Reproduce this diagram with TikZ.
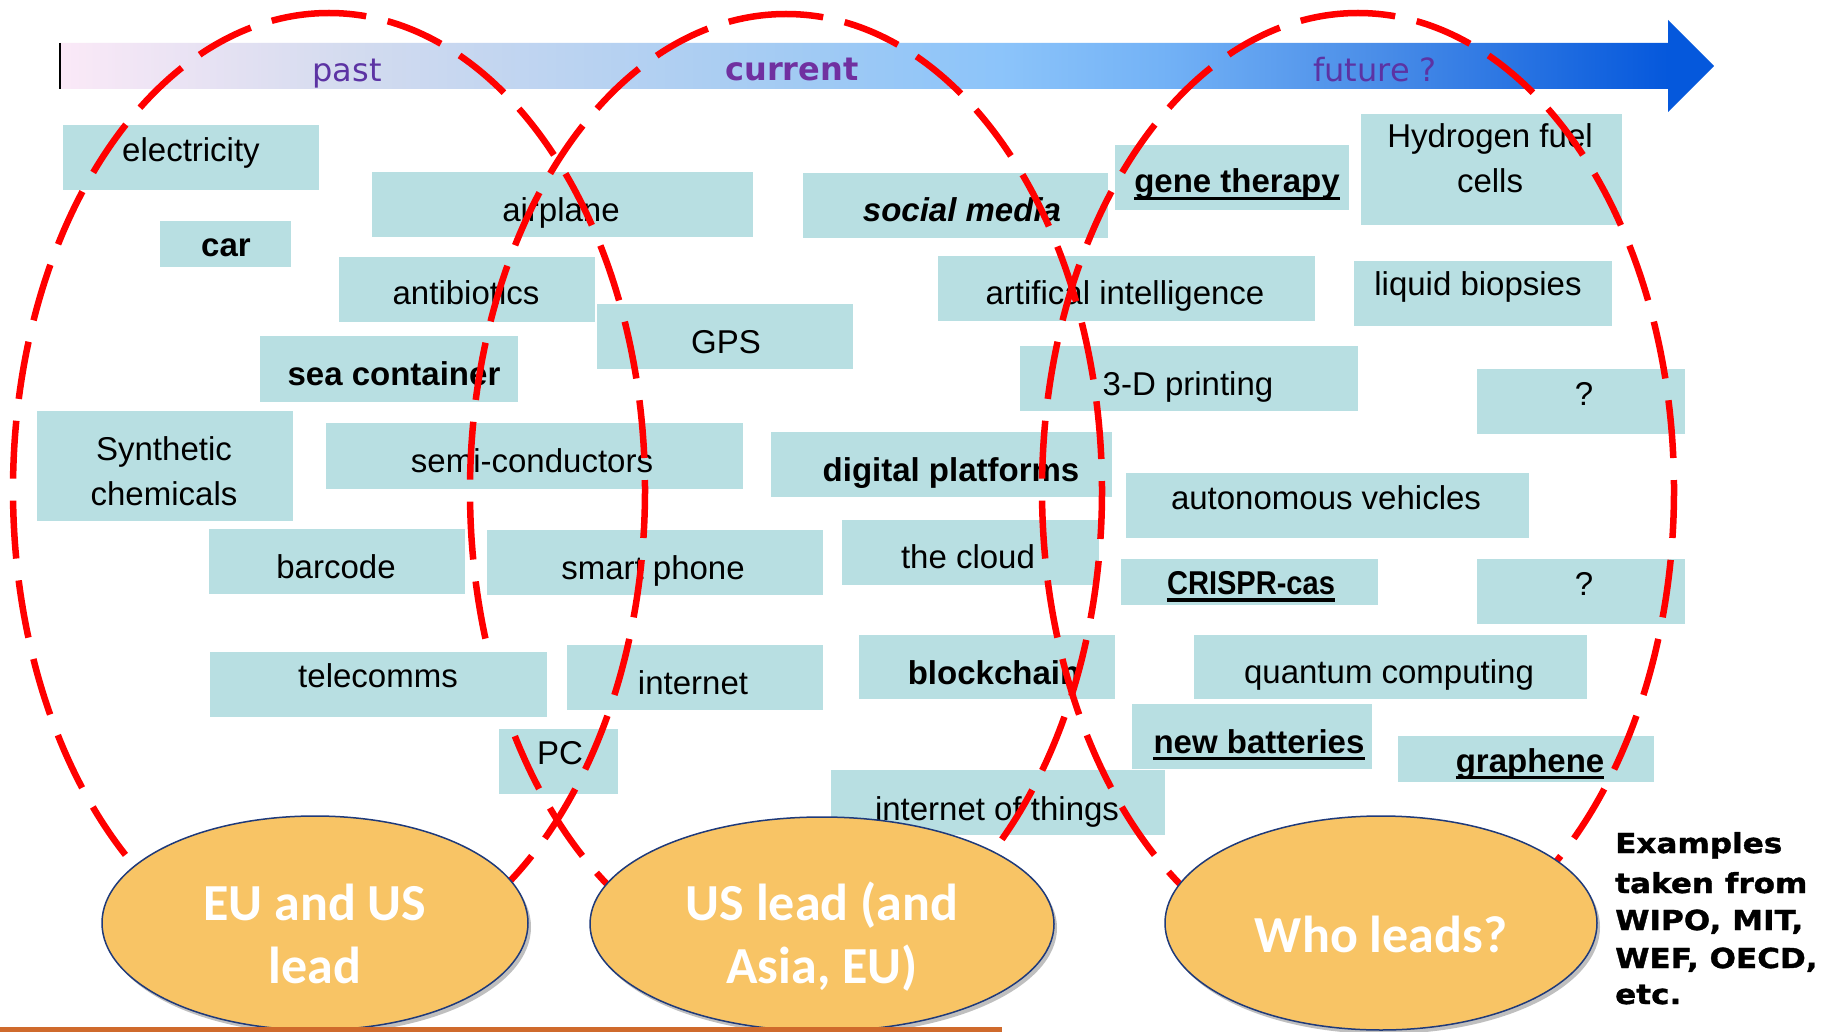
\documentclass[tikz,border=0pt]{standalone}
\usepackage{fontspec}
\usepackage{graphicx}
\setmainfont{Liberation Sans}
\newfontfamily\dvfont{DejaVu Sans}
\newfontfamily\exfont{DejaVu Sans}[FakeStretch=1.13, FakeBold=1.2]
\newfontfamily\calfont{Carlito}
\usetikzlibrary{fit,shadows,shapes.geometric}
\definecolor{boxc}{HTML}{B8DFE2}
\definecolor{leadfill}{HTML}{F8C465}
\definecolor{leadline}{HTML}{1F3A7A}
\definecolor{eracol}{HTML}{5C33A3}
\definecolor{curcol}{HTML}{7030A0}
\definecolor{orline}{HTML}{CF6A2C}
\definecolor{a0}{HTML}{FBE9F7}
\definecolor{a1}{HTML}{D3DBEF}
\definecolor{a2}{HTML}{A3CBF3}
\definecolor{a3}{HTML}{8CC4FA}
\definecolor{a4}{HTML}{73B2F6}
\definecolor{a5}{HTML}{4B8EE8}
\definecolor{a6}{HTML}{0558DC}
\pgfdeclarehorizontalshading{arrowsh}{100bp}{color(0bp)=(a0); color(25bp)=(a0); color(33.8bp)=(a1); color(47bp)=(a2); color(53.4bp)=(a3); color(58.3bp)=(a4); color(64.7bp)=(a5); color(73.6bp)=(a6); color(75bp)=(a6); color(100bp)=(a6)}
\tikzset{
  boxst/.style={fill=boxc, draw=none, inner sep=0pt, outer sep=0pt},
  txt/.style={inner sep=0pt, anchor=base, font=\fontsize{33}{40}\selectfont},
  btxt/.style={inner sep=0pt, anchor=base, font=\fontsize{33}{40}\selectfont\bfseries},
  ulst/.style={line width=3.5pt, black},
  reddash/.style={draw=red, line width=6.5pt, dash pattern=on 58pt off 22pt},
  lead/.style={ellipse, fill=leadfill, draw=leadline, line width=1.5pt, inner sep=0pt,
    drop shadow={shadow xshift=3pt, shadow yshift=-4pt, opacity=0.25, fill=black}},
  leadtxt/.style={inner sep=0pt, anchor=base, text=white, font=\calfont\bfseries\fontsize{52}{62}\selectfont},
  ex/.style={inner sep=0pt, anchor=base west, font=\exfont\bfseries\fontsize{27.5}{37}\selectfont},
  era/.style={inner sep=0pt, anchor=base, text=eracol, font=\dvfont\fontsize{32}{38}\selectfont},
}
\newcommand\tbox[5]{\node[boxst, fit={(#2,#3) (#4,#5)}] (#1) {};}
\begin{document}
\begin{tikzpicture}[x=1pt,y=-1pt]
\fill[white] (0,0) rectangle (1830,1032);
\useasboundingbox (0,0) rectangle (1830,1032);

% timeline arrow
\shade[shading=arrowsh] (60,43) -- (1668,43) -- (1668,20) -- (1714,66) -- (1668,112) -- (1668,89) -- (60,89) -- cycle;
\draw[line width=1.8pt, black] (60,43) -- (60,89);
\node[era] (past) at (347,82) {past};
\node[era, text=curcol, font=\dvfont\bfseries\fontsize{32}{38}\selectfont] (current) at (792,81) {current};
\node[era] (future) at (1375,82) {future ?};

% boxes
\tbox{b1}{63}{125}{319}{190}
\node[txt] (t1) at (191,162) {electricity};
\tbox{b2}{160}{221}{291}{267}
\node[btxt] (t2) at (226,257) {car};
\tbox{b3}{372}{172}{753}{237}
\node[txt] (t3) at (561,222) {airplane};
\tbox{b4}{803}{173}{1108}{238}
\node[btxt, font=\fontsize{33}{40}\selectfont\bfseries\itshape] (t4) at (962,222) {social media};
\tbox{b5}{339}{257}{595}{322}
\node[txt] (t5) at (466,305) {antibiotics};
\tbox{b6}{597}{304}{853}{369}
\node[txt] (t6) at (726,353) {GPS};
\tbox{b7}{260}{336}{518}{402}
\node[btxt] (t7) at (394,385) {sea container};
\tbox{b8}{37}{411}{293}{521}
\node[txt] (t8a) at (164,460) {Synthetic};
\node[txt] (t8b) at (164,505) {chemicals};
\tbox{b9}{326}{423}{743}{489}
\node[txt] (t9) at (532,472) {semi-conductors};
\tbox{b10}{771}{432}{1112}{497}
\node[btxt] (t10) at (951,481) {digital platforms};
\tbox{b11}{209}{529}{465}{594}
\node[txt] (t11) at (336,578) {barcode};
\tbox{b12}{487}{530}{823}{595}
\node[txt] (t12) at (653,579) {smart phone};
\tbox{b13}{842}{520}{1099}{585}
\node[txt] (t13) at (968,568) {the cloud};
\tbox{b15}{567}{645}{823}{710}
\node[txt] (t15) at (693,694) {internet};
\tbox{b16}{859}{635}{1115}{699}
\node[btxt] (t16) at (994,684) {blockchain};
\tbox{b17}{499}{729}{618}{794}
\node[txt] (t17) at (560,764) {PC};
\tbox{b18}{831}{770}{1165}{835}
\node[txt] (t18) at (997,820) {internet of things};
\tbox{b19}{1115}{145}{1349}{210}
\node[btxt] (t19) at (1237,193) {gene therapy};
\draw[ulst] ([yshift=-5.5pt]t19.base west) -- ([yshift=-5.5pt]t19.base east);
\tbox{b20}{1361}{114}{1622}{225}
\node[txt] (t20a) at (1490,148) {Hydrogen fuel};
\node[txt] (t20b) at (1490,193) {cells};
\tbox{b21}{938}{256}{1315}{321}
\node[txt] (t21) at (1125,304) {artifical intelligence};
\tbox{b22}{1354}{261}{1612}{326}
\node[txt] (t22) at (1478,295) {liquid biopsies};
\tbox{b23}{1020}{346}{1358}{411}
\node[txt] (t23) at (1188,395) {3-D printing};
\tbox{b24}{1477}{369}{1685}{434}
\node[txt] (t24) at (1584,405) {?};
\tbox{b25}{1126}{473}{1529}{538}
\node[txt] (t25) at (1326,509) {autonomous vehicles};
\tbox{b26}{1121}{559}{1378}{605}
\node[btxt] (t26) at (1251,594) {\scalebox{0.88}[1]{CRISPR-cas}};
\draw[ulst] ([yshift=-6pt]t26.base west) -- ([yshift=-6pt]t26.base east);
\tbox{b27}{1477}{559}{1685}{624}
\node[txt] (t27) at (1584,595) {?};
\tbox{b28}{1194}{635}{1587}{699}
\node[txt] (t28) at (1389,683) {quantum computing};
\tbox{b29}{1132}{704}{1372}{769}
\node[btxt] (t29) at (1259,753) {new batteries};
\draw[ulst] ([yshift=-5.5pt]t29.base west) -- ([yshift=-5.5pt]t29.base east);
\tbox{b30}{1398}{736}{1654}{782}
\node[btxt] (t30) at (1530,772) {graphene};
\draw[ulst] ([yshift=-5.5pt]t30.base west) -- ([yshift=-5.5pt]t30.base east);

% red dashed era ellipses
\draw[reddash] (329,13) arc [start angle=90, end angle=450, x radius=316pt, y radius=477pt];
\draw[reddash] (786,14) arc [start angle=90, end angle=450, x radius=316pt, y radius=477pt];
\draw[reddash] (1358,13) arc [start angle=90, end angle=450, x radius=316pt, y radius=477pt];

% telecomms box lies over the middle ellipse
\tbox{b14}{210}{652}{547}{717}
\node[txt] (t14) at (378,687) {telecomms};

% leader ellipses
\node[lead, minimum width=426, minimum height=214] (e1) at (315,923) {};
\node[lead, minimum width=464, minimum height=214] (e2) at (822,924) {};
\node[lead, minimum width=432, minimum height=214] (e3) at (1381,923) {};
\node[leadtxt] (e1a) at (315,920) {EU and US};
\node[leadtxt] (e1b) at (315,983) {lead};
\node[leadtxt] (e2a) at (822,920) {US lead (and};
\node[leadtxt] (e2b) at (822,983) {Asia, EU)};
\node[leadtxt] (e3a) at (1381,952) {Who leads?};

% sources note
\node[ex] (x1) at (1615,853) {Examples};
\node[ex] (x2) at (1615,893) {taken from};
\node[ex] (x3) at (1615,930) {WIPO, MIT,};
\node[ex] (x4) at (1615,968) {WEF, OECD,};
\node[ex] (x5) at (1615,1004) {etc.};

% bottom rule
\fill[orline] (0,1027) rectangle (1002,1032);
\end{tikzpicture}
\end{document}
